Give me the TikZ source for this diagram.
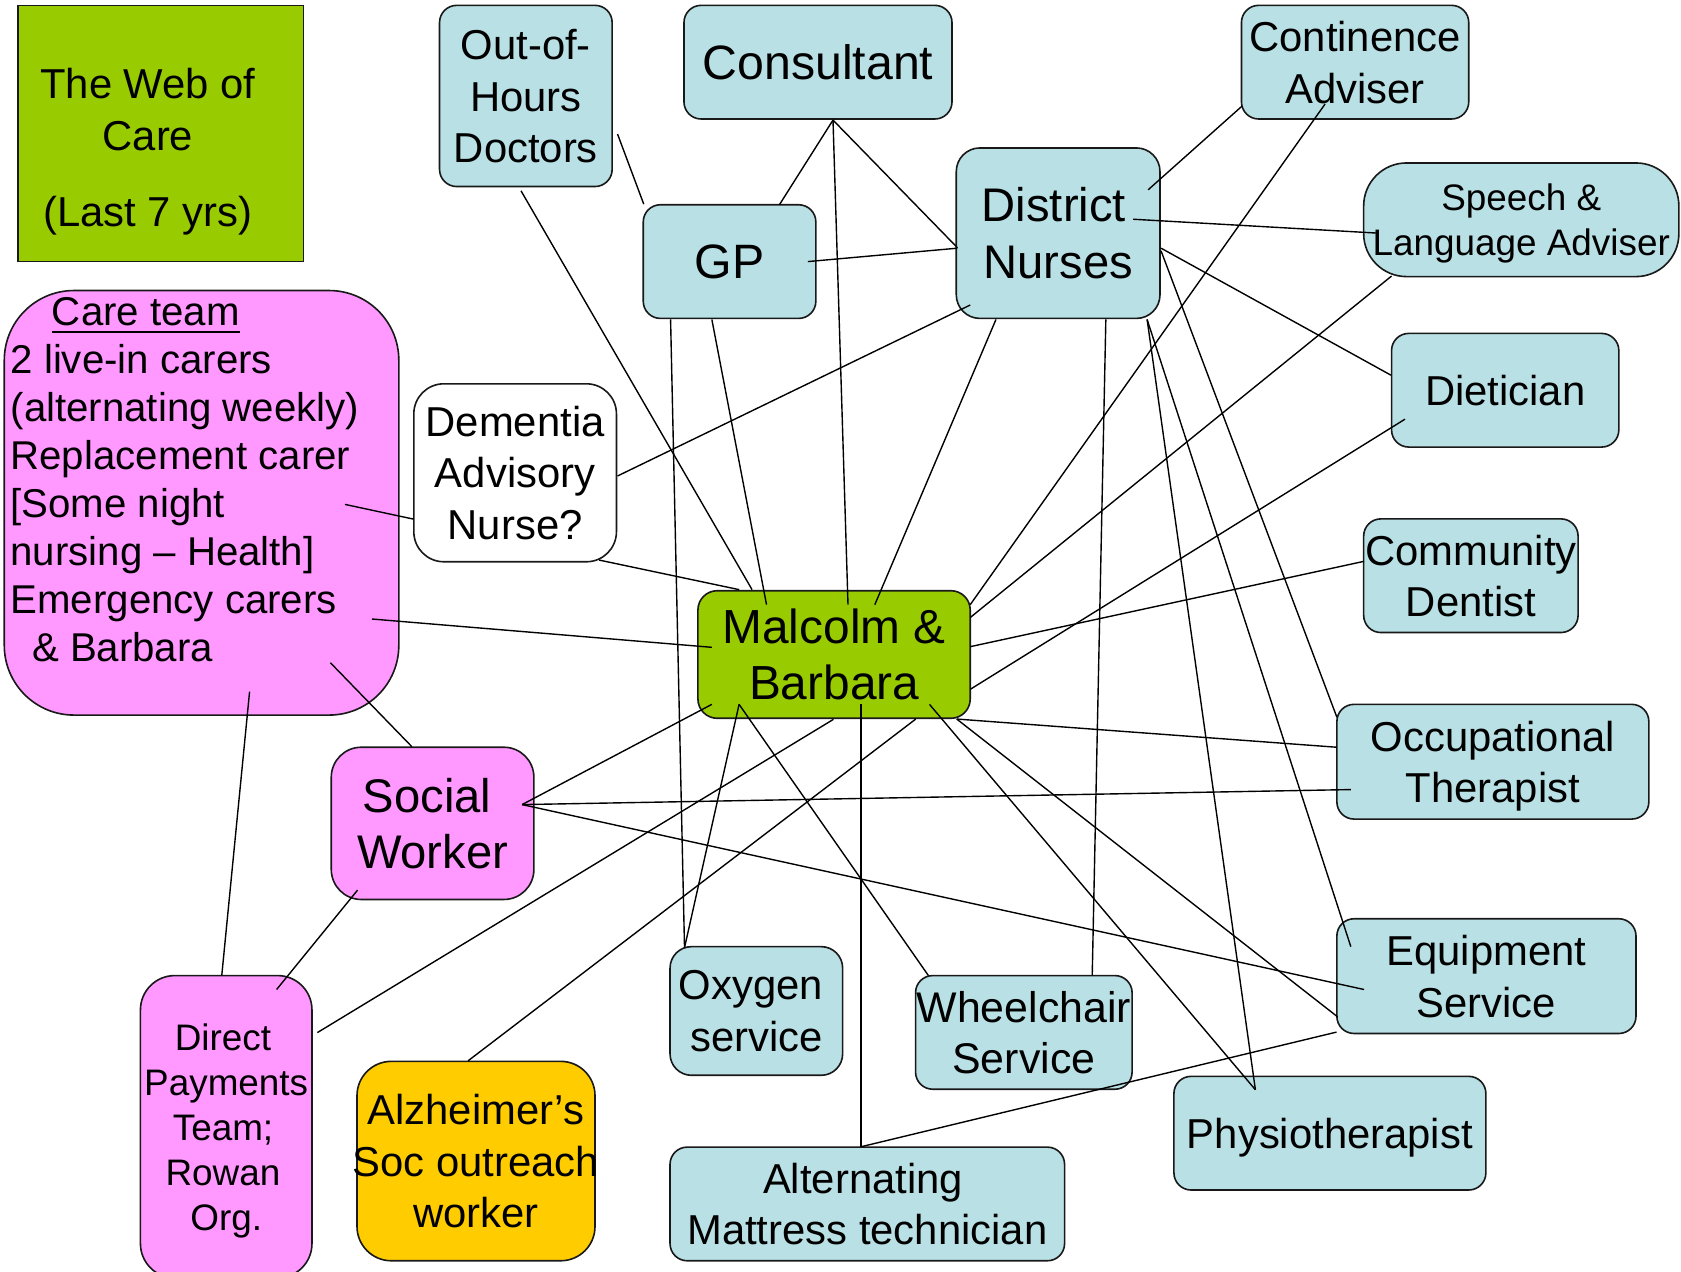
\documentclass[tikz,border=0pt]{standalone}
\usepackage{fontspec}
\setmainfont{Liberation Sans}
\definecolor{bluebox}{RGB}{185,224,228}
\definecolor{greenbox}{RGB}{153,204,0}
\definecolor{pinkbox}{RGB}{255,153,255}
\definecolor{orangebox}{RGB}{255,204,0}
\newcommand\cnx[4]{\draw[conn] ([shift={(#2)}]#1.center) -- ([shift={(#4)}]#3.center);}
\newcommand\ulbox[1]{\setbox0=\hbox{#1}\rlap{\rule[-6.5pt]{\wd0}{2pt}}\box0}
\begin{document}
\begin{tikzpicture}[x=1pt,y=-1pt,
  box/.style={draw=black!90, line width=1.5pt, rounded corners=16pt, inner sep=0pt,
    align=center, fill=bluebox, text depth=0pt},
  fA/.style={font=\fontsize{39}{48}\selectfont},
  fB/.style={font=\fontsize{44}{53}\selectfont},
  fC/.style={font=\fontsize{34.4}{42}\selectfont},
  conn/.style={line width=1.3pt, black}]
\fill[white] (0,0) rectangle (1568,1185.6);
\useasboundingbox (0,0) rectangle (1568,1185.6);

% title
\node[draw=black!90, line width=1.5pt, fill=greenbox, minimum width=266pt, minimum height=239pt] (title) at (150,124.5) {};
\node[fA, align=center, inner sep=0pt, anchor=north] (titletext) at (138,63.5) {The Web of\\Care\\[23.5pt](Last 7 yrs)};

% care team
\node[box, fill=pinkbox, rounded corners=65pt, minimum width=368pt, minimum height=396pt] (care) at (188,469) {};
\node[anchor=north west, inner sep=0pt, align=left, font=\fontsize{37.5}{44.7}\selectfont] (caretext) at (9.7,277.5)
 {\hspace*{38.6pt}\ulbox{Care team}\\2 live-in carers\\(alternating weekly)\\Replacement carer\\{[}Some night\\nursing -- Health]\\Emergency carers\\\hspace*{20pt}\& Barbara};

% boxes
\node[box, fA, minimum width=161pt, minimum height=169pt] (ooh) at (490.5,89.5) {Out-of-\\Hours\\Doctors};
\node[box, font=\fontsize{45}{53}\selectfont, minimum width=250pt, minimum height=106pt] (cons) at (763,58) {Consultant};
\node[box, font=\fontsize{45}{53}\selectfont, minimum width=161pt, minimum height=106pt] (gp) at (680.5,244) {GP};
\node[box, fB, rounded corners=22pt, minimum width=190pt, minimum height=159pt] (dn) at (987,217.5) {District\kern8pt\\Nurses};
\node[box, fA, minimum width=212pt, minimum height=106pt] (cont) at (1264,58) {Continence\\Adviser};
\node[box, fC, rounded corners=40pt, minimum width=294pt, minimum height=106pt] (speech) at (1419,205) {Speech \&\\Language Adviser};
\node[box, fA, minimum width=212pt, minimum height=106pt] (diet) at (1404,364) {Dietician};
\node[box, fA, minimum width=200pt, minimum height=106pt] (dent) at (1372,537) {Community\\Dentist};
\node[box, fA, minimum width=291pt, minimum height=107pt] (ot) at (1392.5,710.5) {Occupational\\Therapist};
\node[box, fA, minimum width=279pt, minimum height=107pt] (equip) at (1386.5,910.5) {Equipment\\Service};
\node[box, fA, minimum width=291pt, minimum height=106pt] (physio) at (1240.5,1057) {Physiotherapist};
\node[box, fA, minimum width=368pt, minimum height=106pt] (alt) at (809,1123) {Alternating\kern8pt\\Mattress technician};
\node[box, font=\fontsize{40}{48}\selectfont, minimum width=202pt, minimum height=106pt] (wheel) at (955,963) {Wheelchair\\Service};
\node[box, fA, rounded corners=20pt, minimum width=161pt, minimum height=120pt] (oxy) at (705.5,943) {Oxygen\kern10pt\\service};
\node[box, fA, fill=orangebox, rounded corners=32pt, minimum width=222pt, minimum height=186pt] (alz) at (444,1083) {Alzheimer's\\\makebox[200pt][c]{Soc outreach}\\worker};
\node[box, fC, fill=pinkbox, rounded corners=32pt, minimum width=160pt, minimum height=282pt] (dp) at (211,1051) {Direct\kern6pt\\Payments\\Team;\kern6pt\\Rowan\kern6pt\\Org.};
\node[box, fB, fill=pinkbox, rounded corners=28pt, minimum width=189pt, minimum height=142pt] (sw) at (403.5,768) {Social\kern10pt\\Worker};
\node[box, fA, fill=white, rounded corners=28pt, minimum width=189pt, minimum height=166pt] (dem) at (480.5,441) {Dementia\\Advisory\\Nurse?};
\node[box, font=\fontsize{44.6}{52}\selectfont, fill=greenbox, rounded corners=18pt, minimum width=254pt, minimum height=119pt] (mb) at (778,610.5) {Malcolm \&\\Barbara};

% connectors
\cnx{cons}{14,54}{gp}{46.5,-53}
\cnx{cons}{14,54}{mb}{13,-46.5}
\cnx{cons}{14,54}{dn}{-94,13.5}
\cnx{ooh}{85.5,35.5}{gp}{-80,-53.5}
\cnx{ooh}{-4.5,88.5}{mb}{-76.5,-60.5}
\cnx{gp}{73,0}{dn}{-94,14}
\cnx{gp}{-55,54}{oxy}{-67,-59}
\cnx{gp}{-16.5,54}{mb}{-63,-46.5}
\cnx{dn}{84,-40.5}{cont}{-105.5,41}
\cnx{dn}{70,-13}{speech}{-133,12.5}
\cnx{dn}{96,14}{diet}{-106.5,-14}
\cnx{dn}{96,16.5}{ot}{-145.5,-41.5}
\cnx{dn}{83,80.5}{equip}{-126.5,-27.5}
\cnx{dn}{83,80.5}{physio}{-69.5,-40.5}
\cnx{dn}{44.5,80.5}{wheel}{63.8,-53.5}
\cnx{dn}{-58,80.5}{mb}{38,-46.5}
\cnx{dn}{-82,67}{dem}{95.5,3}
\cnx{cont}{-28,39}{mb}{127,-46.5}
\cnx{speech}{-121,52.5}{mb}{127,-34.5}
\cnx{diet}{-93.5,27}{mb}{127,32.5}
\cnx{dent}{-99.7,-13.4}{mb}{127,-7.3}
\cnx{ot}{-145.8,-13.5}{mb}{114.4,60.2}
\cnx{ot}{-132.5,26}{sw}{83.5,-17.5}
\cnx{equip}{-114.1,12.5}{sw}{83.5,-17.5}
\cnx{equip}{-138.8,38}{mb}{114.4,60.2}
\cnx{equip}{-139.8,52.2}{alt}{-5.2,-53.5}
\cnx{physio}{-69.5,-40.5}{mb}{89,46.5}
\cnx{mb}{25.2,46.5}{alt}{-5.8,-53.5}
\cnx{mb}{-88.6,46.5}{wheel}{-89,-53}
\cnx{mb}{-88.6,46.5}{oxy}{-67,-59}
\cnx{mb}{76.2,60.2}{alz}{-7.4,-93.5}
\cnx{mb}{-0.6,60.5}{dp}{85,-87.8}
\cnx{mb}{-114,46.5}{sw}{83.5,-17.5}
\cnx{mb}{-114,-6.7}{care}{159,108.4}
\cnx{mb}{-88.5,-60.5}{dem}{78.3,81.4}
\cnx{care}{133.8,1.5}{dem}{-94.9,43.2}
\cnx{care}{120.2,149.2}{sw}{-19.3,-71.5}
\cnx{care}{44.8,176.2}{dp}{-4.1,-141.5}
\cnx{sw}{-70,62.3}{dp}{47,-128}
\end{tikzpicture}
\end{document}
